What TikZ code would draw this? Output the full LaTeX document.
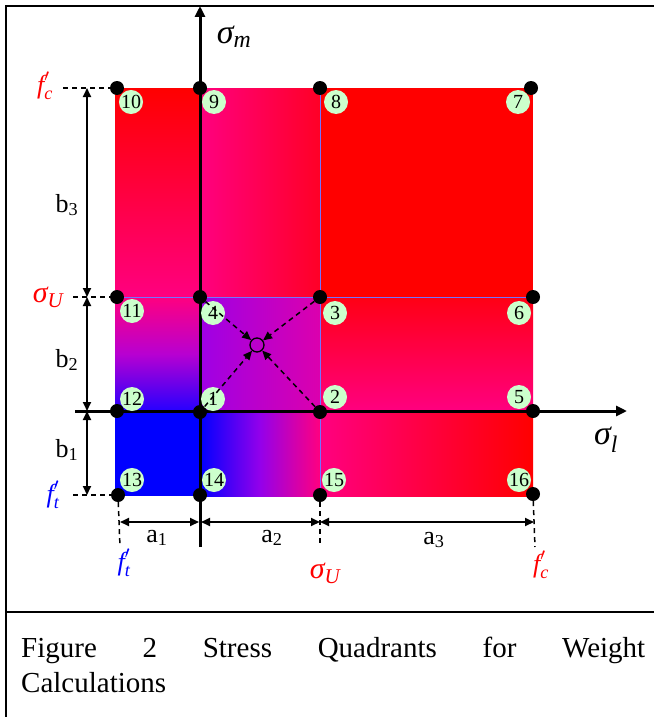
\documentclass[tikz,border=0pt]{standalone}
\usepackage{amsmath}
\usepackage{fontspec}
\setmainfont{Liberation Serif}
\usetikzlibrary{arrows.meta}
\definecolor{qpink}{rgb}{1,0,0.5}
\definecolor{qred}{rgb}{1,0,0}
\definecolor{qredp}{rgb}{1,0,0.15}
\definecolor{qredt}{rgb}{1,0,0.08}
\definecolor{qblue}{rgb}{0,0,1}
\definecolor{qblueb}{rgb}{0.15,0,1}
\definecolor{qpurple}{rgb}{0.58,0,0.92}
\definecolor{qmid}{rgb}{0.72,0,0.82}
\definecolor{qEa}{rgb}{0.62,0,0.9}
\definecolor{qEb}{rgb}{0.86,0,0.68}
\definecolor{qgrid}{rgb}{0.45,0.45,1}
\definecolor{qgreen}{rgb}{0.8,1,0.8}
\newcommand{\qss}[2]{$\text{\itshape #1}^{\prime}_{\text{\itshape #2}}$}
\begin{document}
\begin{tikzpicture}[x=1pt,y=-1pt,
  axisline/.style={line width=3pt,-{Triangle[length=11pt,width=10pt]}},
  dimline/.style={line width=2pt,{Triangle[length=9pt,width=8pt]}-{Triangle[length=9pt,width=8pt]}},
  guide/.style={line width=1.5pt,dash pattern=on 5pt off 4pt},
  feed/.style={guide,-{Triangle[length=9pt,width=8pt]}},
  dot/.style={circle,fill=black,inner sep=0pt,minimum size=14pt},
  num/.style={circle,fill=qgreen,inner sep=0pt,minimum size=24pt,font=\fontsize{20}{20}\selectfont},
  lbl/.style={inner sep=0pt,font=\fontsize{26}{26}\selectfont},
  sig/.style={inner sep=0pt,font=\fontsize{34}{34}\selectfont},
  frame/.style={line width=2.5pt}]
\useasboundingbox (0,0) rectangle (653,717);

% frame
\draw[frame] (6,720) -- (6,6) -- (660,6);
\draw[frame] (6,612) -- (660,612);

% coloured cells
\fill[top color=qred,bottom color=qpink] (115,88) rectangle (200,297);
\fill[left color=qpink,right color=qredp] (200,88) rectangle (320,297);
\fill[qred] (320,88) rectangle (533,297);
\fill[top color=qpink,bottom color=qblueb,middle color=qmid] (115,297) rectangle (200,411);
\fill[left color=qEa,right color=qEb] (200,297) rectangle (320,411);
\fill[top color=qredt,bottom color=qpink] (320,297) rectangle (533,411);
\fill[qblue] (115,411) rectangle (200,496);
\fill[left color=qblue,right color=qpink,middle color=qpurple] (200,411) rectangle (320,496);
\fill[left color=qpink,right color=qred] (320,411) rectangle (533,496);
\draw[qgrid,line width=1pt] (115,297) -- (533,297);
\draw[qgrid,line width=1pt] (320,88) -- (320,496);

% axes
\coordinate (vbot) at (200,547);
\coordinate (vtop) at (200,6);
\coordinate (hleft) at (75,411);
\coordinate (hright) at (627,411);
\draw[axisline] (vbot) -- (vtop);
\draw[axisline] (hleft) -- (hright);
\node[sig] (sm) at (234,37) {\itshape σ\textsubscript{m}};
\node[sig] (sl) at (606,440) {\itshape σ\textsubscript{l}};

% dots
\node[dot] (d10) at (117,88) {};
\node[dot] (d9) at (200,88) {};
\node[dot] (d8) at (320,88) {};
\node[dot] (d7) at (531,88) {};
\node[dot] (d11) at (117,297) {};
\node[dot] (d4) at (200,297) {};
\node[dot] (d3) at (320,297) {};
\node[dot] (d6) at (533,297) {};
\node[dot] (d12) at (117,411) {};
\node[dot] (d1) at (200,412) {};
\node[dot] (d2) at (320,412) {};
\node[dot] (d5) at (533,411) {};
\node[dot] (d13) at (118,495) {};
\node[dot] (d14) at (200,495) {};
\node[dot] (d15) at (320,495) {};
\node[dot] (d16) at (533,494) {};

% number labels
\node[num] (n10) at (131,102) {10};
\node[num] (n9) at (214,102) {9};
\node[num] (n8) at (336,102) {8};
\node[num] (n7) at (518,102) {7};
\node[num] (n11) at (132,311) {11};
\node[num] (n4) at (213,313) {4};
\node[num] (n3) at (335,313) {3};
\node[num] (n6) at (519,313) {6};
\node[num] (n12) at (132,399) {12};
\node[num] (n1) at (213,399) {1};
\node[num] (n2) at (335,397) {2};
\node[num] (n5) at (519,397) {5};
\node[num] (n13) at (132,480) {13};
\node[num] (n14) at (214,480) {14};
\node[num] (n15) at (334,480) {15};
\node[num] (n16) at (519,480) {16};

% interpolation point
\node[circle,draw=black,line width=1.3pt,inner sep=0pt,minimum size=14pt] (c) at (257,345) {};
\draw[feed] (d4) -- (c);
\draw[feed] (d3) -- (c);
\draw[feed] (d1) -- (c);
\draw[feed] (d2) -- (c);

% left guides and dimensions
\coordinate (gfc) at (63,88);
\coordinate (gsu) at (73,297);
\coordinate (gft) at (73,495);
\draw[guide] (gfc) -- (d10);
\draw[guide] (gsu) -- (d11);
\draw[guide] (gft) -- (d13);
\coordinate (b3t) at (87,88);
\coordinate (b3b) at (87,297);
\coordinate (b1t) at (87,411);
\coordinate (b1b) at (87,495);
\draw[dimline] (b3b) -- (b3t);
\draw[dimline] (b3b) -- (b1t);
\draw[dimline] (b1t) -- (b1b);
\node[lbl] (lb3) at (67,205) {b\textsubscript{3}};
\node[lbl] (lb2) at (67,360) {b\textsubscript{2}};
\node[lbl] (lb1) at (67,450) {b\textsubscript{1}};
\node[lbl,text=red] (lfc) at (45,86) {\qss{f}{c}};
\node[lbl,text=red,font=\fontsize{30}{30}\selectfont] (lsu) at (48,297) {\itshape σ\textsubscript{U}};
\node[lbl,text=blue] (lft) at (53,495) {\qss{f}{t}};

% bottom guides and dimensions
\coordinate (g13) at (120,547);
\coordinate (g15) at (320,547);
\coordinate (g16) at (535,547);
\draw[guide] (d13) -- (g13);
\draw[guide] (d15) -- (g15);
\draw[guide] (d16) -- (g16);
\coordinate (a1l) at (120,522);
\coordinate (a1r) at (199,522);
\coordinate (a2l) at (201,522);
\coordinate (a2r) at (320,522);
\coordinate (a3r) at (534,522);
\draw[dimline] (a1l) -- (a1r);
\draw[dimline] (a2l) -- (a2r);
\draw[dimline] (a2r) -- (a3r);
\node[lbl] (la1) at (157,538) {a\textsubscript{1}};
\node[lbl] (la2) at (272,538) {a\textsubscript{2}};
\node[lbl] (la3) at (434,540) {a\textsubscript{3}};
\node[lbl,text=blue] (bft) at (124,563) {\qss{f}{t}};
\node[lbl,text=red,font=\fontsize{30}{30}\selectfont] (bsu) at (325,573) {\itshape σ\textsubscript{U}};
\node[lbl,text=red] (bfc) at (541,565) {\qss{f}{c}};

% caption
\node[anchor=base west,inner sep=0pt,font=\fontsize{29}{29}\selectfont] (cap1) at (21,657)
  {\makebox[624pt][s]{Figure 2 Stress Quadrants for Weight}};
\node[anchor=base west,inner sep=0pt,font=\fontsize{29}{29}\selectfont] (cap2) at (21,692)
  {Calculations};
\end{tikzpicture}
\end{document}
